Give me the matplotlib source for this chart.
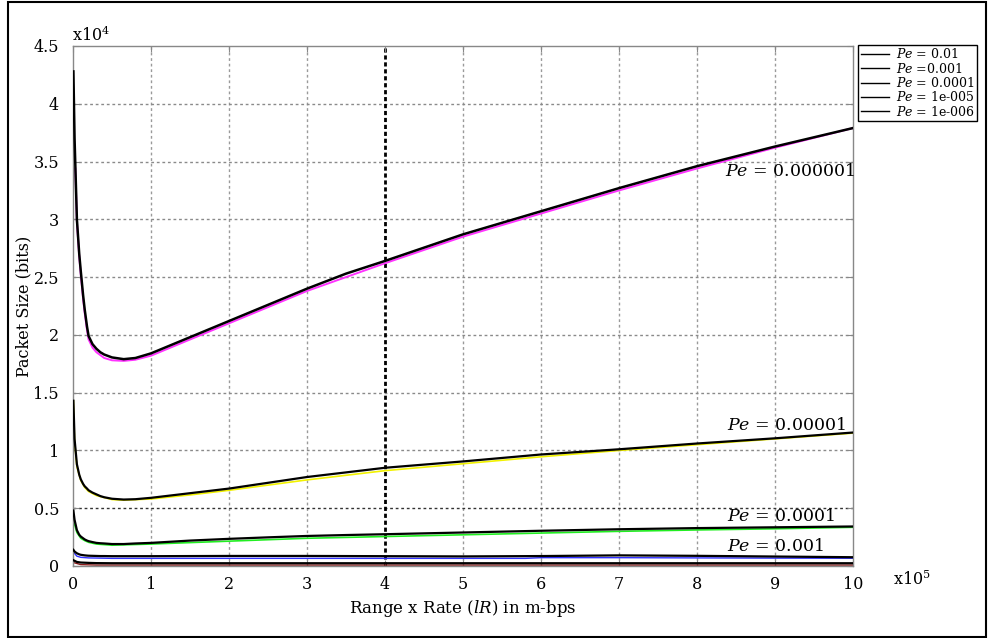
import matplotlib
matplotlib.use("Agg")
import matplotlib.pyplot as plt
from matplotlib.patches import Rectangle

plt.rcParams['font.family'] = ['DejaVu Serif']
plt.rcParams['mathtext.fontset'] = 'dejavuserif'

# Range x Rate (x1e5) and packet size (x1e4) for each bit error rate
x_pts = [0.005, 0.02, 0.05, 0.08, 0.1, 0.13, 0.15, 0.18, 0.2, 0.25, 0.3, 0.35, 0.4,
         0.5, 0.65, 0.8, 1.0, 1.5, 2, 2.5, 3, 3.5, 4, 5, 6, 7, 8, 9, 10]

pe_1e6 = [4.28, 3.70, 3.00, 2.70, 2.55, 2.34, 2.22, 2.07, 1.99, 1.92, 1.88, 1.85, 1.83,
          1.805, 1.79, 1.80, 1.84, 1.98, 2.12, 2.26, 2.40, 2.53, 2.64, 2.87, 3.07, 3.27,
          3.46, 3.63, 3.79]
pe_1e5 = [1.43, 1.10, 0.88, 0.79, 0.75, 0.71, 0.69, 0.67, 0.655, 0.635, 0.62, 0.605,
          0.595, 0.582, 0.575, 0.578, 0.59, 0.63, 0.67, 0.72, 0.77, 0.81, 0.85, 0.905,
          0.965, 1.01, 1.06, 1.105, 1.155]
pe_1e4 = [0.48, 0.40, 0.31, 0.27, 0.255, 0.24, 0.23, 0.22, 0.215, 0.207, 0.20, 0.197,
          0.195, 0.19, 0.19, 0.195, 0.20, 0.22, 0.235, 0.248, 0.26, 0.268, 0.275, 0.29,
          0.305, 0.318, 0.328, 0.335, 0.342]
pe_1e3 = [0.14, 0.125, 0.11, 0.101, 0.097, 0.094, 0.092, 0.09, 0.089, 0.088, 0.087,
          0.086, 0.086, 0.085, 0.085, 0.085, 0.085, 0.086, 0.087, 0.087, 0.087, 0.086,
          0.085, 0.083, 0.086, 0.092, 0.088, 0.082, 0.076]
pe_1e2_x = [0.005, 0.05, 0.1, 0.2, 0.3, 0.5, 1, 10]
pe_1e2 = [0.05, 0.035, 0.03, 0.027, 0.025, 0.024, 0.024, 0.024]

# colored reference traces beneath the black curves
mag_x = [0.03, 0.05, 0.08, 0.1, 0.13, 0.15, 0.18, 0.2, 0.25, 0.3, 0.4, 0.5, 0.65, 0.8,
         1, 1.5, 2, 3, 4, 5, 6, 7, 8, 9, 10]
mag_y = [3.44, 2.98, 2.68, 2.52, 2.31, 2.19, 2.04, 1.96, 1.89, 1.85, 1.80, 1.78, 1.775,
         1.785, 1.82, 1.96, 2.10, 2.38, 2.62, 2.85, 3.05, 3.25, 3.44, 3.62, 3.79]
yel_x = [0.005, 0.02, 0.05, 0.1, 0.15, 0.2, 0.3, 0.5, 0.65, 1, 1.5, 2, 3, 4, 5, 6, 7,
         8, 9, 10]
yel_y = [1.43, 1.08, 0.86, 0.74, 0.68, 0.645, 0.61, 0.575, 0.57, 0.58, 0.615, 0.655,
         0.745, 0.825, 0.885, 0.945, 1.0, 1.05, 1.10, 1.15]
grn_x = [0.005, 0.02, 0.05, 0.1, 0.15, 0.2, 0.3, 0.5, 1, 2, 3, 4, 5, 6, 7, 8, 9, 10]
grn_y = [0.42, 0.36, 0.29, 0.24, 0.22, 0.205, 0.19, 0.18, 0.19, 0.215, 0.24, 0.255,
         0.27, 0.285, 0.30, 0.312, 0.322, 0.335]
blu_x = [0.005, 0.05, 0.1, 0.2, 0.5, 1, 2, 3, 4, 5, 5.8, 6, 7, 8, 9, 10]
blu_y = [0.12, 0.085, 0.075, 0.07, 0.066, 0.066, 0.066, 0.066, 0.066, 0.066, 0.066,
         0.072, 0.072, 0.07, 0.068, 0.067]
brn_x = [0.005, 0.1, 0.3, 10]
brn_y = [0.03, 0.012, 0.008, 0.008]

legend_labels = [r"$Pe$ = 0.01", r"$Pe$ =0.001", r"$Pe$ = 0.0001",
                 r"$Pe$ = 1e-005", r"$Pe$ = 1e-006"]
curve_labels = [r"$Pe$ = 0.000001", r"$Pe$ = 0.00001", r"$Pe$ = 0.0001", r"$Pe$ = 0.001"]
curve_label_pos = [(8.36, 3.41), (8.38, 1.215), (8.38, 0.43), (8.39, 0.17)]

fig = plt.figure(figsize=(9.88, 6.38), dpi=100)
ax = fig.add_axes([73 / 988, 1 - 566 / 638, 780 / 988, 520 / 638])

# grid
for gx in range(1, 10):
    if gx == 4:
        continue
    ax.axvline(gx, color='#9a9a9a', lw=1.0, ls=(0, (2, 2)), zorder=1)
for gy in [1, 1.5, 2, 2.5, 3, 3.5, 4]:
    ax.axhline(gy, color='#8a8a8a', lw=1.0, ls=(0, (2, 2)), zorder=1)
ax.axhline(0.5, color='#333333', lw=1.0, ls=(0, (2, 2)), zorder=1)
ax.axvline(4, color='black', lw=2.0, ls=(0, (1.5, 1.0)), zorder=1)

ax.plot(brn_x, brn_y, color='#8b1a1a', lw=1.0, zorder=2)
ax.plot(blu_x, blu_y, color='#3030ff', lw=1.0, zorder=2)
ax.plot(grn_x, grn_y, color='#22ee22', lw=1.2, zorder=2)
ax.plot(yel_x, yel_y, color='#f2f200', lw=1.2, zorder=2)
ax.plot(mag_x, mag_y, color='#ff33ff', lw=1.4, zorder=2)

h1, = ax.plot(pe_1e2_x, pe_1e2, color='black', lw=1.6, zorder=3)
h2, = ax.plot(x_pts, pe_1e3, color='black', lw=1.6, zorder=3)
h3, = ax.plot(x_pts, pe_1e4, color='black', lw=1.6, zorder=3)
h4, = ax.plot(x_pts, pe_1e5, color='black', lw=1.6, zorder=3)
h5, = ax.plot(x_pts, pe_1e6, color='black', lw=1.8, zorder=3)

for lab, (lx, ly) in zip(curve_labels, curve_label_pos):
    ax.text(lx, ly, lab, fontsize=12.5, ha='left', va='center', zorder=4)

ax.set_xlim(0, 10)
ax.set_ylim(0, 4.5)
ax.set_xticks(range(0, 11))
ax.set_yticks([0, 0.5, 1, 1.5, 2, 2.5, 3, 3.5, 4, 4.5])
ax.set_yticklabels(['0', '0.5', '1', '1.5', '2', '2.5', '3', '3.5', '4', '4.5'])
ax.tick_params(axis='both', direction='in', length=4, color='#888888',
               labelsize=11.5, top=True, right=True)
ax.tick_params(axis='x', pad=7)
ax.tick_params(axis='y', pad=10)
for s in ax.spines.values():
    s.set_color('#888888')
    s.set_linewidth(1.0)

ax.set_xlabel(r"Range x Rate ($lR$) in m-bps", fontsize=12, labelpad=4)
ax.set_ylabel("Packet Size (bits)", fontsize=11.5, labelpad=1)

fig.text(72 / 988, 1 - 35 / 638, r"x10$^{4}$", fontsize=11.5, ha='left', va='center')
fig.text(893 / 988, 1 - 580 / 638, r"x10$^{5}$", fontsize=11.5, ha='left', va='center')

leg = fig.legend([h1, h2, h3, h4, h5], legend_labels, loc='upper left',
                 bbox_to_anchor=(858 / 988, 1 - 45 / 638), fontsize=9,
                 frameon=True, fancybox=False, edgecolor='black', framealpha=1,
                 borderpad=0.2, labelspacing=0.02, handlelength=2.3,
                 handletextpad=0.5, borderaxespad=0)
leg.get_frame().set_linewidth(1.0)
for ln in leg.get_lines():
    ln.set_linewidth(1.0)

fig.patches.append(Rectangle((8 / 988, 1 / 638), 978 / 988, 635 / 638,
                             transform=fig.transFigure, fill=False,
                             edgecolor='black', lw=1.5))

fig.savefig('out.png', dpi=100)
